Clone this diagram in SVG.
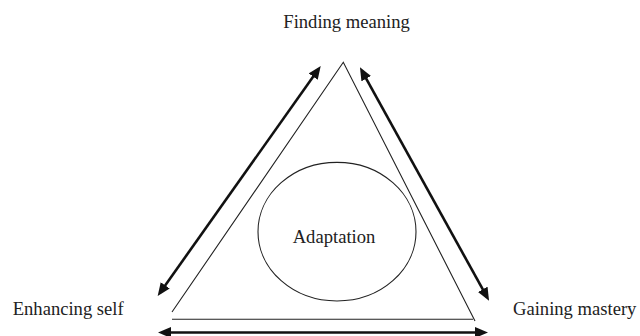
<svg xmlns="http://www.w3.org/2000/svg" width="640" height="336" viewBox="0 0 640 336">
<style>
text{font-family:"Liberation Serif",Tinos,"Times New Roman",Times,serif;font-size:18.6px;fill:#222}
.thin{fill:none;stroke:#222;stroke-width:1.1}
.arr{fill:none;stroke:#111;stroke-width:2.6}
</style>
<defs>
<marker id="ah" markerUnits="userSpaceOnUse" markerWidth="13" markerHeight="11" viewBox="0 0 13 11" refX="9" refY="5.5" orient="auto-start-reverse">
<path d="M0,0 L13,5.5 L0,11 z" fill="#111"/>
</marker>
</defs>
<rect width="640" height="336" fill="#fff"/>
<g id="triangle">
<polyline class="thin" points="172,312 343.3,62.3 475,321"/>
<line class="thin" x1="172" y1="319.3" x2="473" y2="319.3"/>
</g>
<g id="adaptation">
<ellipse class="thin" cx="337" cy="231.7" rx="79" ry="69.3"/>
<text x="334" y="243.3" text-anchor="middle" font-family="Liberation Serif, serif">Adaptation</text>
</g>
<g id="finding-meaning">
<text x="283.3" y="28.3" font-family="Liberation Serif, serif">Finding meaning</text>
</g>
<g id="enhancing-self">
<text x="12.7" y="315" font-family="Liberation Serif, serif">Enhancing self</text>
</g>
<g id="gaining-mastery">
<text x="513" y="315" font-family="Liberation Serif, serif">Gaining mastery</text>
</g>
<g id="connectors">
<line class="arr" x1="160" y1="292.7" x2="318.4" y2="69.3" marker-start="url(#ah)" marker-end="url(#ah)"/>
<line class="arr" x1="361.9" y1="70.8" x2="487.1" y2="297.2" marker-start="url(#ah)" marker-end="url(#ah)"/>
<line class="arr" x1="162" y1="332.5" x2="484" y2="332.5" marker-start="url(#ah)" marker-end="url(#ah)"/>
</g>
</svg>
